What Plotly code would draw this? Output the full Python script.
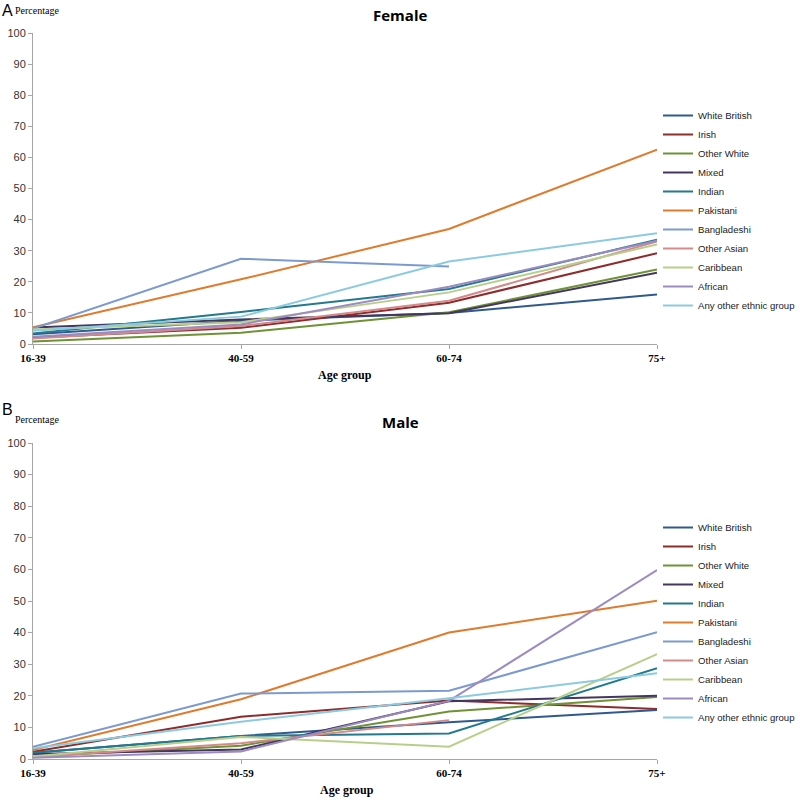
import plotly.graph_objects as go

age_groups = ["16-39", "40-59", "60-74", "75+"]
groups = ["White British", "Irish", "Other White", "Mixed", "Indian", "Pakistani",
          "Bangladeshi", "Other Asian", "Caribbean", "African", "Any other ethnic group"]
colors = ["#2E5A8E", "#8E2B2B", "#6E9234", "#44365F", "#23798E", "#E07A2C",
          "#7C9AD0", "#D48A8A", "#B8CF8A", "#9C8BC0", "#8CCADF"]

female_white_british = [3.1, 7.5, 10.0, 15.9]
female_irish = [2.0, 5.2, 13.3, 29.2]
female_other_white = [0.8, 3.6, 10.2, 24.0]
female_mixed = [5.3, 7.9, 9.9, 22.9]
female_indian = [3.4, 10.3, 17.7, 33.5]
female_pakistani = [5.4, 20.8, 37.0, 62.5]
female_bangladeshi = [5.0, 27.4, 24.9, None]
female_other_asian = [1.8, 5.8, 13.9, 33.0]
female_caribbean = [4.7, 7.0, 16.6, 32.0]
female_african = [2.3, 6.3, 18.4, 33.2]
female_any_other = [4.3, 8.8, 26.5, 35.6]

male_white_british = [2.0, 7.3, 11.6, 15.5]
male_irish = [2.3, 13.4, 18.5, 15.8]
male_other_white = [0.8, 4.2, 15.0, 19.6]
male_mixed = [1.6, 3.0, 18.3, 20.0]
male_indian = [2.0, 7.3, 8.1, 28.7]
male_pakistani = [2.8, 18.9, 40.0, 50.1]
male_bangladeshi = [3.9, 20.7, 21.6, 40.1]
male_other_asian = [0.6, 5.0, 12.3, None]
male_caribbean = [0.8, 7.0, 3.9, 33.2]
male_african = [0.4, 2.4, 18.4, 59.8]
male_any_other = [3.4, 11.8, 19.2, 27.1]

female = [female_white_british, female_irish, female_other_white, female_mixed, female_indian,
          female_pakistani, female_bangladeshi, female_other_asian, female_caribbean,
          female_african, female_any_other]
male = [male_white_british, male_irish, male_other_white, male_mixed, male_indian,
        male_pakistani, male_bangladeshi, male_other_asian, male_caribbean,
        male_african, male_any_other]

y_ticks = list(range(0, 101, 10))

fig = go.Figure()
for name, col, vals in zip(groups, colors, female):
    fig.add_trace(go.Scatter(x=age_groups, y=vals, mode="lines", name=name,
                             line=dict(color=col, width=2), xaxis="x", yaxis="y",
                             legend="legend", connectgaps=False))
for name, col, vals in zip(groups, colors, male):
    fig.add_trace(go.Scatter(x=age_groups, y=vals, mode="lines", name=name,
                             line=dict(color=col, width=2), xaxis="x2", yaxis="y2",
                             legend="legend2", connectgaps=False))

W, H = 800, 801
x_dom = [33 / W, 657 / W]
yA = [1 - 344 / H, 1 - 33 / H]
yB = [1 - 759 / H, 1 - 443 / H]

xaxis_common = dict(type="category", categoryorder="array", categoryarray=age_groups,
                    range=[0, 3], showgrid=False, zeroline=False, showline=True,
                    linecolor="#A6A6A6", linewidth=1, ticks="outside", ticklen=4,
                    tickcolor="#A6A6A6", automargin=False,
                    tickfont=dict(family="Liberation Serif", size=11, color="#000000"),
                    tickprefix="<b>", ticksuffix="</b>")
yaxis_common = dict(range=[0, 100], tickvals=y_ticks, showgrid=False, zeroline=False,
                    showline=True, linecolor="#A6A6A6", linewidth=1, ticks="outside",
                    ticklen=4, tickcolor="#A6A6A6", automargin=False,
                    tickfont=dict(family="Liberation Sans", size=11, color="#333333"))

legend_common = dict(font=dict(family="Liberation Sans", size=9.6, color="#222222"),
                     bgcolor="rgba(0,0,0,0)", borderwidth=0, xanchor="left",
                     yanchor="top", itemwidth=30, tracegroupgap=0)

fig.update_layout(
    width=W, height=H,
    margin=dict(l=0, r=0, t=0, b=0, autoexpand=False),
    paper_bgcolor="white", plot_bgcolor="white",
    showlegend=True,
    xaxis=dict(domain=x_dom, anchor="y", **xaxis_common),
    yaxis=dict(domain=yA, anchor="x", **yaxis_common),
    xaxis2=dict(domain=x_dom, anchor="y2", **xaxis_common),
    yaxis2=dict(domain=yB, anchor="x2", **yaxis_common),
    legend=dict(x=658 / W, y=1 - 101 / H, **legend_common),
    legend2=dict(x=658 / W, y=1 - 513 / H, **legend_common),
)

ann = []
ann.append(dict(text="<b>Female</b>", x=400 / W, y=1 - 3 / H, xref="paper", yref="paper",
                xanchor="center", yanchor="top", showarrow=False,
                font=dict(family="Open Sans", size=15, color="#000000")))
ann.append(dict(text="<b>Male</b>", x=400 / W, y=1 - 410 / H, xref="paper", yref="paper",
                xanchor="center", yanchor="top", showarrow=False,
                font=dict(family="Open Sans", size=15, color="#000000")))
ann.append(dict(text="A", x=0, y=1 - 0 / H, xref="paper", yref="paper",
                xanchor="left", yanchor="top", showarrow=False,
                font=dict(family="Liberation Sans", size=16, color="#000000")))
ann.append(dict(text="Percentage", x=13 / W, y=1 - 3 / H, xref="paper", yref="paper",
                xanchor="left", yanchor="top", showarrow=False,
                font=dict(family="Liberation Serif", size=10, color="#000000")))
ann.append(dict(text="B", x=0, y=1 - 399 / H, xref="paper", yref="paper",
                xanchor="left", yanchor="top", showarrow=False,
                font=dict(family="Liberation Sans", size=16, color="#000000")))
ann.append(dict(text="Percentage", x=13 / W, y=1 - 412 / H, xref="paper", yref="paper",
                xanchor="left", yanchor="top", showarrow=False,
                font=dict(family="Liberation Serif", size=10, color="#000000")))
ann.append(dict(text="<b>Age group</b>", x=345 / W, y=1 - 366 / H, xref="paper", yref="paper",
                xanchor="center", yanchor="top", showarrow=False,
                font=dict(family="Liberation Serif", size=12, color="#000000")))
ann.append(dict(text="<b>Age group</b>", x=347 / W, y=1 - 781 / H, xref="paper", yref="paper",
                xanchor="center", yanchor="top", showarrow=False,
                font=dict(family="Liberation Serif", size=12, color="#000000")))
fig.update_layout(annotations=ann)

fig.write_html("out.html", config={"displayModeBar": False},
               post_script="document.body.style.margin='0';document.body.style.overflow='hidden';")
